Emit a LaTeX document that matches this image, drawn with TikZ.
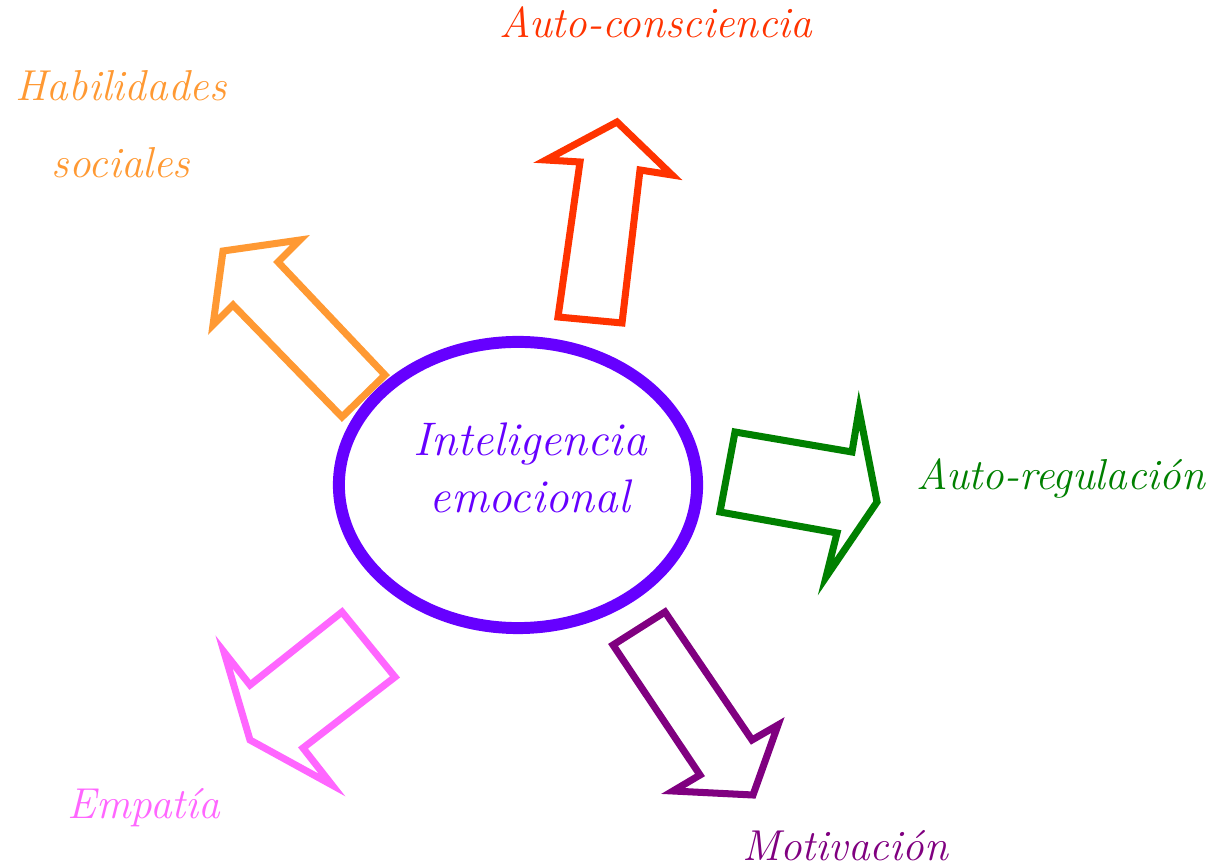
\documentclass[tikz,border=0pt]{standalone}
\usepackage{tikz}
\usetikzlibrary{positioning,shapes}
\definecolor{rojo}{HTML}{FF3300}
\definecolor{naranja}{HTML}{FF9933}
\definecolor{verde}{HTML}{008000}
\definecolor{rosa}{HTML}{FF66FF}
\definecolor{morado}{HTML}{800080}
\definecolor{violeta}{HTML}{6600FF}
\tikzset{
    flecha/.style = {
        draw,
        line width=2pt,
        miter limit=20
    },
    centro/.style = {
        draw=violeta,
        shape=ellipse,
        minimum width=3.58cm,
        minimum height=2.86cm,
        line width=3.4pt
    },
    etiqueta/.style = {
        font=\fontsize{12.3}{21}\selectfont\itshape,
        align=center,
        inner sep=0pt
    }
}

\begin{document}
\begin{tikzpicture}[x=0.01cm, y=-0.01cm]
            \useasboundingbox (0,0) rectangle (1219,868);

            % centro
            \node[centro] (ie) at (518,485) {};
            \node[etiqueta, text=violeta, font=\fontsize{13.4}{16}\selectfont\itshape] (ietext) at (530,468) {Inteligencia\\emocional};

            % flechas
            \draw[flecha, rojo] (617,122) -- (672,175) -- (640,170) -- (622,323) -- (558,317) -- (580,162) -- (546,160) -- cycle;
            \draw[flecha, naranja] (223,251) -- (300,240) -- (278,262) -- (385,375) -- (342,417) -- (233,305) -- (213,325) -- cycle;
            \draw[flecha, verde] (877,502) -- (826,577) -- (837,533) -- (720,512) -- (735,432) -- (852,452) -- (859,410) -- cycle;
            \draw[flecha, rosa] (250,740) -- (224,652) -- (250,685) -- (342,612) -- (395,677) -- (303,748) -- (332,785) -- cycle;
            \draw[flecha, morado] (753,795) -- (673,791) -- (700,775) -- (613,645) -- (665,612) -- (752,740) -- (778,725) -- cycle;

            % textos
            \node[etiqueta, text=rojo] (conciencia) at (656,22) {Auto-consciencia};
            \node[etiqueta, text=naranja, font=\fontsize{12.3}{22}\selectfont\itshape] (social) at (121,124) {Habilidades\\sociales};
            \node[etiqueta, text=verde] (regulacion) at (1061,478) {Auto-regulación};
            \node[etiqueta, text=morado] (motivacion) at (845,846) {Motivación};
            \node[etiqueta, text=rosa] (empatia) at (144,808) {Empatía};
        \end{tikzpicture}
\end{document}
